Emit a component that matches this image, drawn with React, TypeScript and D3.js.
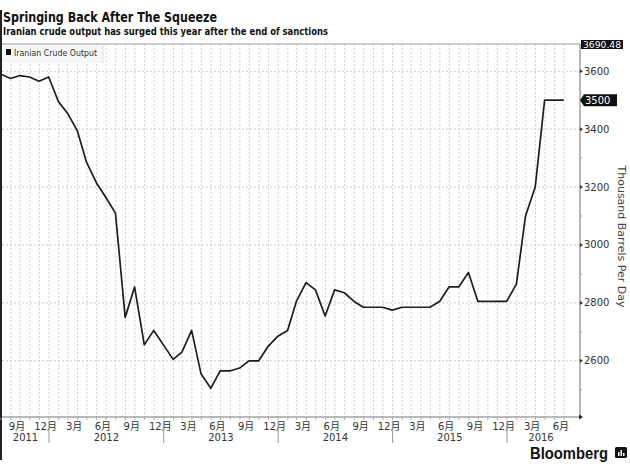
import React from 'react';
import * as d3 from 'd3';

// monthly output, month-end points, Jul 2011 .. Jun 2016
const startYear = 2011;
const startMonth = 6; // July (0-based)
const output = [
  3590, 3575, 3585, 3580, 3565, 3580,
  3495, 3455, 3395, 3285, 3215, 3165, 3110, 2750, 2855, 2655, 2705, 2655,
  2605, 2630, 2705, 2555, 2505, 2565, 2565, 2575, 2600, 2600, 2650, 2685,
  2705, 2805, 2870, 2845, 2755, 2845, 2835, 2805, 2785, 2785, 2785, 2775,
  2785, 2785, 2785, 2785, 2805, 2855, 2855, 2905, 2805, 2805, 2805, 2805,
  2865, 3100, 3200, 3500, 3500, 3500,
];
const yTicks = [2600, 2800, 3000, 3200, 3400, 3600];
const yMinor = [2500, 2700, 2900, 3100, 3300, 3500];
const quarterMonths = [8, 11, 2, 5]; // 9月 12月 3月 6月
const years = [2011, 2012, 2013, 2014, 2015, 2016];
const seriesName = 'Iranian Crude Output';
const topValue = 3690.48;
const lastValue = 3500;

const W = 630;
const H = 474;
const left = 2;
const right = 580;
const top = 44;
const bottom = 417;

const font = '"DejaVu Sans", "Noto Sans CJK SC", sans-serif';

function App() {
  const x = d3
    .scaleTime()
    .domain([new Date(2012, 0, 1), new Date(2016, 0, 1)])
    .range([49, 507]);
  const y = d3.scaleLinear().domain([2406, topValue]).range([bottom, 45]);

  const points = output.map((v, i) => ({
    date: new Date(startYear, startMonth + i + 1, 0),
    value: v,
  }));

  const line = d3
    .line<{ date: Date; value: number }>()
    .x((d) => x(d.date))
    .y((d) => y(d.value));

  const monthStarts = d3.timeMonth.range(new Date(2011, 7, 1), new Date(2016, 7, 1));
  const quarterLabels = monthStarts.filter(
    (d) => quarterMonths.includes(d.getMonth()) && d < new Date(2016, 6, 1)
  );
  const yearStarts = years.slice(1).map((yr) => new Date(yr, 0, 1));

  return (
    <svg
      width={W}
      height={H}
      style={{ position: 'absolute', left: 0, top: 0, background: '#fff' }}
      fontFamily={font}
    >
      <defs>
        <clipPath id="plot">
          <rect x={left} y={top} width={right - left} height={bottom - top} />
        </clipPath>
      </defs>

      {/* left border strip */}
      <rect x={0} y={10} width={2} height={450} fill="#222" />

      {/* title */}
      <text x={3} y={22} fontSize={14} fontWeight="bold" fill="#111" textLength={214} lengthAdjust="spacingAndGlyphs">
        Springing Back After The Squeeze
      </text>
      <text x={3} y={35} fontSize={10} fontWeight="bold" fill="#111" textLength={325} lengthAdjust="spacingAndGlyphs">
        Iranian crude output has surged this year after the end of sanctions
      </text>

      {/* grid */}
      <g clipPath="url(#plot)">
        {monthStarts.map((d, i) => (
          <line
            key={'v' + i}
            x1={x(d)}
            x2={x(d)}
            y1={top}
            y2={bottom}
            stroke="#d0d0d0"
            strokeWidth={1}
            strokeDasharray="2,2"
          />
        ))}
        {yTicks.map((t) => (
          <line
            key={'h' + t}
            x1={left}
            x2={right}
            y1={y(t)}
            y2={y(t)}
            stroke="#c8c8c8"
            strokeWidth={1}
            strokeDasharray="2,2"
          />
        ))}
      </g>

      {/* frame top */}
      <line x1={left} x2={right} y1={top} y2={top} stroke="#999" strokeWidth={1} />

      {/* legend */}
      <rect x={left} y={top + 1} width={101} height={18} fill="#f7f7f7" />
      <line x1={103} x2={103} y1={top} y2={top + 19} stroke="#ddd" />
      <rect x={6} y={49} width={5} height={6} fill="#111" />
      <text x={14} y={55.5} fontSize={8.5} fill="#333" textLength={83} lengthAdjust="spacingAndGlyphs">
        {seriesName}
      </text>

      {/* series */}
      <path
        d={line(points) || ''}
        fill="none"
        stroke="#1e1e1e"
        strokeWidth={1.7}
        strokeLinejoin="round"
        clipPath="url(#plot)"
      />

      {/* y axis */}
      <line x1={right} x2={right} y1={top} y2={bottom} stroke="#888" strokeWidth={1.2} />
      {yMinor.map((t) => (
        <line key={'m' + t} x1={right} x2={right + 2} y1={y(t)} y2={y(t)} stroke="#999" />
      ))}
      {yTicks.map((t) => (
        <g key={'y' + t}>
          <path d={`M${right},${y(t) - 2}L${right + 3},${y(t)}L${right},${y(t) + 2}Z`} fill="#333" />
          <text x={right + 4} y={y(t) + 3.5} fontSize={10} fill="#333">
            {t}
          </text>
        </g>
      ))}
      {/* top value tag */}
      <rect x={right + 1} y={40} width={42} height={9} fill="#111" />
      <text x={right + 3} y={47.5} fontSize={9} fill="#fff" textLength={38} lengthAdjust="spacingAndGlyphs">
        {topValue}
      </text>
      {/* last value tag */}
      <path
        d={`M${right},${y(lastValue)}L${right + 4},${y(lastValue) - 6}L${right + 37},${y(lastValue) - 6}L${right + 37},${y(lastValue) + 6}L${right + 4},${y(lastValue) + 6}Z`}
        fill="#111"
      />
      <text x={right + 5} y={y(lastValue) + 4} fontSize={10} fill="#fff">
        {lastValue}
      </text>

      {/* y title */}
      <text
        transform={`translate(618,${(top + bottom) / 2 + 6}) rotate(90)`}
        textAnchor="middle"
        fontSize={11}
        fill="#444"
      >
        Thousand Barrels Per Day
      </text>

      {/* x axis */}
      <line x1={left} x2={right} y1={bottom} y2={bottom} stroke="#777" strokeWidth={1.2} />
      <path d={`M${right - 1},${bottom - 2.5}L${right + 3},${bottom}L${right - 1},${bottom + 2.5}Z`} fill="#222" />
      {monthStarts.map((d, i) => (
        <line key={'t' + i} x1={x(d)} x2={x(d)} y1={bottom + 1} y2={bottom + 3} stroke="#aaa" />
      ))}
      {quarterLabels.map((d, i) => (
        <text
          key={'q' + i}
          x={x(d3.timeDay.offset(d, 20))}
          y={430}
          fontSize={10}
          textAnchor="middle"
          fill="#333"
        >
          {d.getMonth() + 1}月
        </text>
      ))}
      {yearStarts.map((d, i) => (
        <line key={'ys' + i} x1={x(d)} x2={x(d)} y1={421} y2={443} stroke="#999" />
      ))}
      {years.map((yr) => {
        const a = Math.max(left, x(new Date(yr, 0, 1)));
        const b = Math.min(575, x(new Date(yr + 1, 0, 1)));
        return (
          <text key={'yr' + yr} x={(a + b) / 2} y={441} fontSize={10} textAnchor="middle" fill="#333">
            {yr}
          </text>
        );
      })}

      {/* logo */}
      <text x={530} y={459} fontSize={16} fontWeight="bold" fill="#111" fontFamily='"Liberation Sans", sans-serif' textLength={78} lengthAdjust="spacingAndGlyphs">
        Bloomberg
      </text>
      <rect x={615} y={447} width={12} height={11} rx={1.5} fill="#111" />
      <rect x={618} y={452} width={1.5} height={4} fill="#fff" />
      <rect x={620.5} y={450} width={1.5} height={6} fill="#fff" />
      <rect x={623} y={453} width={1.5} height={3} fill="#fff" />
    </svg>
  );
}

export default App;
